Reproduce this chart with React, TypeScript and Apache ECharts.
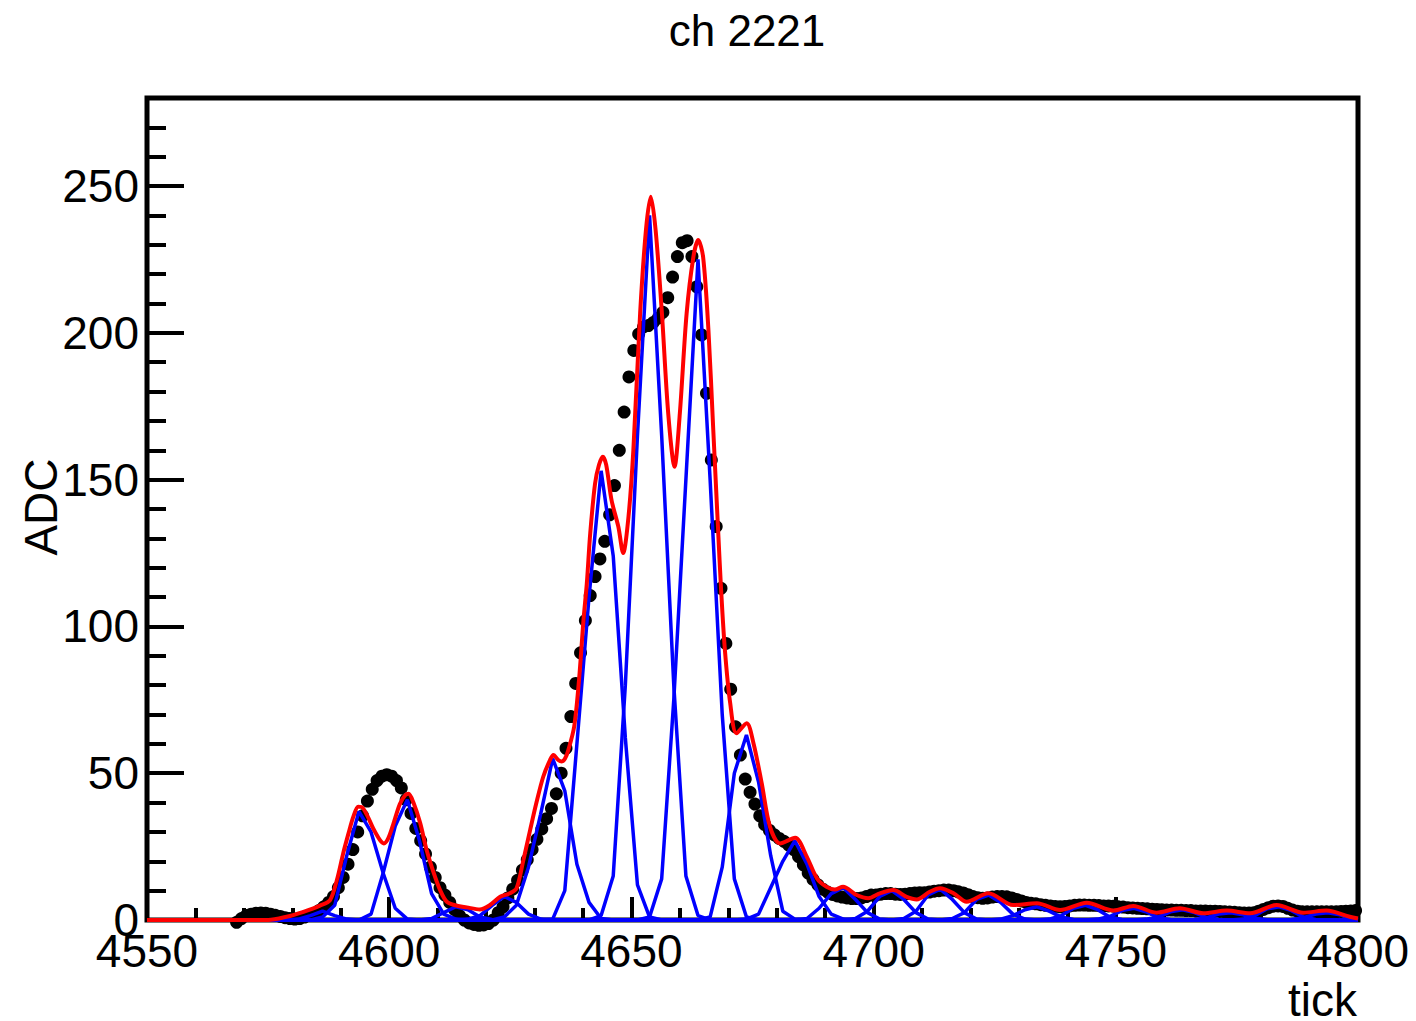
import React, { useEffect, useRef } from "react";
import * as echarts from "echarts";

// ---- measured ADC samples (one per tick bin, first bin = adcStart) ----
const adcStart = 4568;
const adcValues = [
  -0.8, 0.5, 1.5, 2, 2.3, 2.4, 2.3, 2, 1.6, 1.2, 0.8, 0.5, 0.3,
  0.5, 1, 1.5, 2.2, 3.2, 4.5, 6, 8, 11, 14.5,
  19, 24, 30, 35.5, 40.5, 44.5, 47.5, 49, 49.5, 49,
  47.5, 45, 41, 36.3, 31.2, 27, 22.5, 18, 14.5, 11,
  8.5, 6, 3.5, 1.5, 0, -1, -1.5, -1.8, -1.7, -1.2,
  0, 2.5, 4.5, 7.5, 10.5, 13.5, 17, 20.5, 24, 27.5,
  31, 34.5, 38, 43, 50, 58.5, 69.3, 80.6, 91, 102,
  110.5, 117, 123, 129, 138, 148, 160, 173, 185, 194,
  199.6, 202, 202.5, 203.5, 205, 207, 212, 219, 226, 230.7,
  231.4, 226, 215.7, 199.3, 179.4, 156.7, 134, 113, 94.2, 78.6,
  65.8, 56.2, 48, 43.5, 39.5, 35.5, 32.5, 30.5, 29, 27.8,
  26.8, 25.5, 24, 21.6, 18.8, 16, 13.8, 12, 10.5, 9.5,
  8.7, 8.2, 7.8, 7.5, 7.3, 7.3, 7.5, 8, 8.5, 8.5,
  8.8, 9, 9, 8.8, 8.7, 8.8, 9, 9.2, 9.3, 9.3,
  9.5, 9.8, 10, 10.2, 10.2, 10, 9.6, 9.2, 8.6, 8,
  7.6, 7.4, 7.5, 7.8, 8, 8, 7.9, 7.5, 7, 6.5,
  6, 5.7, 5.5, 5.2, 5, 4.8, 4.6, 4.5, 4.6, 4.8,
  5, 5.1, 5.1, 5, 5, 4.9, 4.8, 4.8, 4.7, 4.5,
  4.4, 4.2, 4.1, 4, 3.9, 3.8, 3.7, 3.6, 3.5, 3.4,
  3.4, 3.3, 3.3, 3.2, 3.2, 3.1, 3.1, 3.1, 3, 3,
  2.9, 2.8, 2.7, 2.6, 2.5, 2.4, 2.4, 2.5, 3, 3.6,
  4.2, 4.7, 4.8, 4.6, 4, 3.4, 3, 2.8, 2.8, 2.8,
  2.8, 2.8, 2.8, 2.8, 2.8, 2.9, 3, 3.1, 3.2,
];

// ---- total fit (red) ----
const fitX = [
  4550, 4575, 4578.8, 4582.3, 4585.7, 4587.8, 4589.2, 4590.5, 4591.6, 4592.6,
  4593.6, 4594.3, 4595.4, 4596.7, 4598.1, 4598.9, 4599.8, 4600.8, 4602.2, 4603.3,
  4604, 4605, 4606.4, 4607.7, 4609.1, 4610.5, 4611.9, 4613.9, 4616, 4618.7,
  4620.8, 4622.9, 4624.9, 4626.3, 4627.7, 4629.1, 4630.4, 4631.8, 4633.2, 4633.9,
  4634.9, 4635.6, 4636.3, 4637, 4638.2, 4639.2, 4640.1, 4640.8, 4641.5, 4642.5,
  4643.3, 4644.1, 4644.8, 4645.9, 4647.3, 4648.3, 4649.4, 4650.4, 4651.8, 4653,
  4654, 4655, 4656.3, 4657.6, 4658.9, 4660, 4661.4, 4662.8, 4663.8, 4664.8,
  4665.9, 4666.9, 4667.9, 4668.5, 4669.3, 4670.4, 4671.7, 4673.8, 4675.2, 4676.9,
  4678.6, 4680.7, 4683.8, 4686.2, 4688.3, 4690.3, 4692, 4693.7, 4696.5, 4698.9,
  4701.3, 4704.1, 4706.8, 4708.9, 4711.6, 4713.7, 4716.5, 4719.2, 4723.7, 4728.8,
  4733.7, 4738.5, 4744, 4749.5, 4753.6, 4758.4, 4763.2, 4768.1, 4772.9, 4777.7,
  4783.2, 4788.7, 4793.5, 4798.3, 4800,
];
const fitY = [
  0, 0, 1.1, 2.8, 4.9, 6.8, 13.6, 22.7, 29.5, 35.2,
  38.6, 38.5, 35.8, 31.2, 27.2, 26.1, 27.8, 32.4, 39.5, 42.5,
  43, 40, 33, 24, 16.5, 10.2, 6.2, 4.9, 4.3, 3.6,
  5.1, 7.9, 9.1, 10.8, 20.4, 30.7, 40, 48.8, 54.5, 56.2,
  54.5, 54, 55, 58, 66, 82, 102, 114.7, 131.7, 148.7,
  155, 157.8, 155, 143, 134, 125, 137.4, 160, 206.6, 235,
  246.4, 235, 206.6, 172.6, 154.4, 172.6, 206.6, 225.9, 231.6, 225.9,
  201, 167, 132.8, 113, 92, 73.8, 63.6, 67, 60.2, 46.6,
  31.8, 26.1, 28, 21.6, 14.2, 11.3, 10.4, 11.3, 8.5, 7.4,
  9.1, 10.2, 7.9, 7, 9.6, 10.8, 9.1, 6.2, 9.1, 5.1,
  5.7, 3.4, 5.9, 3.2, 4.8, 2.5, 4, 2.3, 3.2, 2.3,
  5.1, 2.5, 3.2, 1.1, 0.5,
];

// ---- individual pulse components (blue), sampled every 2.5 ticks ----
const compStep = 2.5;
const compGridOffset = 1.25;
const compStarts = [
  4581.25, 4586.25, 4596.25, 4608.75, 4616.25, 4623.75, 4633.75, 4643.75,
  4653.75, 4666.25, 4673.75, 4686.25, 4696.25, 4706.25, 4716.25, 4726.25,
  4736.25, 4746.25, 4756.25, 4766.25, 4776.25, 4786.25,
];
const compValues = [
  [0.3, 1.5, 3, 1.5, 0.3],
  [1, 5, 22, 37, 30, 16, 4, 0.3],
  [2, 16, 32, 41, 27, 9, 2, 0.3],
  [0.5, 2.5, 4.5, 3.5, 1, 0.2],
  [0.3, 1.5, 5, 8, 6, 2, 0.3],
  [1, 5, 18, 36, 55, 44, 19, 6, 0.5],
  [0.3, 10, 60, 110, 153, 124, 62, 12, 1],
  [1.5, 15, 80, 165, 240, 165, 80, 15, 1.5],
  [1, 14, 75, 150, 225, 150, 70, 14, 1],
  [1, 18, 50, 63, 47, 22, 3, 0.3],
  [0.3, 2, 11, 20, 27, 19, 8, 2, 0.3],
  [0.5, 4, 9, 11, 7, 2.5, 0.3],
  [0.5, 3, 8, 10, 7, 2.5, 0.3],
  [0.5, 3, 8.5, 10.5, 7, 2.5, 0.3],
  [0.5, 2.5, 7, 8.5, 6, 2, 0.3],
  [0.3, 1.5, 3.5, 4.5, 3, 1, 0.2],
  [0.3, 1.5, 4, 5, 3.5, 1, 0.2],
  [0.3, 1.2, 3.2, 4, 2.8, 0.8, 0.2],
  [0.3, 1, 2.8, 3.5, 2.5, 0.8, 0.2],
  [0.2, 0.8, 2, 2.5, 1.8, 0.6, 0.1],
  [0.3, 1.5, 3.8, 4.5, 3.2, 1, 0.2],
  [0.2, 0.8, 2, 2.5, 1.8, 0.6],
];

const xMin = 4550;
const xMax = 4800;
const yMin = 0;
const yMax = 280;
const titleText = "ch 2221";
const xTitle = "tick";
const yTitle = "ADC";

const FONT = '"Liberation Sans", Arial, Helvetica, sans-serif';

export default function App() {
  const ref = useRef<HTMLDivElement>(null);

  useEffect(() => {
    if (!ref.current) return;
    const chart = echarts.init(ref.current, null, { renderer: "svg" });

    const adcData = adcValues.map((v, i) => [adcStart + i + 0.5, v]);
    const fitData = fitX.map((x, i) => [x, fitY[i]]);

    const gridXs: number[] = [xMin];
    const nSteps = Math.round((xMax - xMin) / compStep);
    for (let i = 0; i < nSteps; i++) gridXs.push(xMin + compGridOffset + i * compStep);
    gridXs.push(xMax);

    const compSeries = compStarts.map((x0, k) => {
      const vals = compValues[k];
      const data = gridXs.map((x) => {
        const idx = Math.round((x - x0) / compStep);
        const onGrid = Math.abs(x - (x0 + idx * compStep)) < 1e-6;
        const v = onGrid && idx >= 0 && idx < vals.length ? vals[idx] : 0;
        return [x, v];
      });
      return {
        type: "line",
        data,
        symbol: "none",
        showSymbol: false,
        clip: false,
        lineStyle: { color: "#0000ff", width: 3.5 },
        z: 3,
        silent: true,
      };
    });

    const gridLeft = 147;
    const gridTop = 98;
    const gridRight = 1416 - 1358;
    const gridBottom = 1021 - 920;
    const gridW = 1358 - 147;

    chart.setOption({
      animation: false,
      grid: {
        left: gridLeft,
        top: gridTop,
        right: gridRight,
        bottom: gridBottom,
        show: true,
        borderColor: "#000",
        borderWidth: 5,
        backgroundColor: "transparent",
      },
      xAxis: [
        {
          type: "value",
          min: xMin,
          max: xMax,
          interval: 50,
          position: "bottom",
          axisLine: { show: false },
          axisTick: { show: true, inside: true, length: 23, lineStyle: { color: "#000", width: 4 } },
          minorTick: { show: true, splitNumber: 5, length: 12, lineStyle: { color: "#000", width: 4 } },
          axisLabel: {
            fontSize: 46,
            color: "#000",
            fontFamily: FONT,
            margin: 8,
            formatter: (v: number) => String(v),
          },
          splitLine: { show: false },
        },
      ],
      yAxis: [
        {
          type: "value",
          min: yMin,
          max: yMax,
          interval: 50,
          position: "left",
          axisLine: { show: false },
          axisTick: { show: true, inside: true, length: 37, lineStyle: { color: "#000", width: 4 } },
          axisLabel: {
            fontSize: 46,
            color: "#000",
            fontFamily: FONT,
            margin: 8,
            showMaxLabel: false,
            formatter: (v: number) => (v % 50 === 0 ? String(v) : ""),
          },
          splitLine: { show: false },
        },
        {
          type: "value",
          min: yMin,
          max: yMax,
          interval: 10,
          position: "right",
          offset: -gridW,
          axisLine: { show: false },
          axisTick: { show: true, inside: false, length: 19, lineStyle: { color: "#000", width: 4 } },
          axisLabel: { show: false },
          splitLine: { show: false },
        },
      ],
      graphic: [
        {
          type: "text",
          x: 747,
          y: 30,
          style: { text: titleText, font: `44px ${FONT}`, fill: "#000", align: "center", verticalAlign: "middle" },
        },
        {
          type: "text",
          x: 41,
          y: 507,
          rotation: Math.PI / 2,
          style: { text: yTitle, font: `46px ${FONT}`, fill: "#000", align: "center", verticalAlign: "middle" },
        },
        {
          type: "text",
          x: 1357,
          y: 1000,
          style: {
            text: xTitle,
            font: `46px ${FONT}`,
            lineHeight: 38,
            fill: "#000",
            align: "right",
            verticalAlign: "middle",
          },
        },
      ],
      series: [
        {
          type: "scatter",
          data: adcData,
          symbol: "circle",
          symbolSize: 13,
          itemStyle: { color: "#000", opacity: 1 },
          clip: false,
          z: 2,
          silent: true,
        },
        ...compSeries,
        {
          type: "line",
          data: fitData,
          symbol: "none",
          showSymbol: false,
          smooth: 0.3,
          clip: false,
          lineStyle: { color: "#ff0000", width: 4 },
          z: 4,
          silent: true,
        },
      ],
    });

    return () => chart.dispose();
  }, []);

  return (
    <div
      ref={ref}
      style={{ position: "fixed", left: 0, top: 0, width: 1416, height: 1021, background: "#fff" }}
    />
  );
}
